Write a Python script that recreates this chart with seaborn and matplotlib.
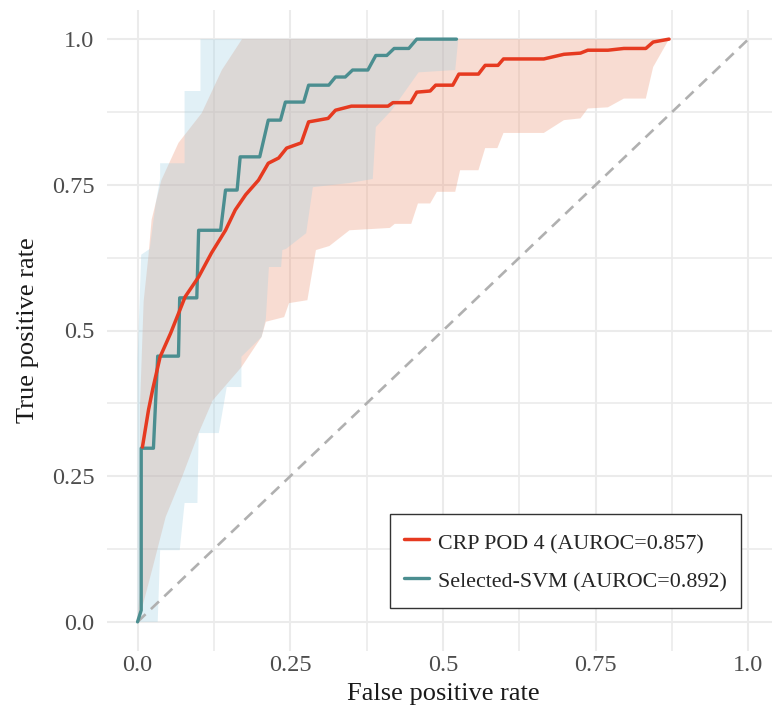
import seaborn as sns
import numpy as np
import matplotlib.pyplot as plt
from matplotlib.ticker import MultipleLocator

# ROC curves
crp_fpr = [0.008, 0.018, 0.025, 0.037, 0.054, 0.078, 0.1, 0.121, 0.144, 0.16, 0.177, 0.198, 0.214, 0.231,
           0.244, 0.268, 0.28, 0.312, 0.324, 0.35, 0.41, 0.418, 0.447, 0.457, 0.479, 0.488, 0.516, 0.526,
           0.558, 0.569, 0.59, 0.599, 0.665, 0.698, 0.725, 0.737, 0.77, 0.796, 0.832, 0.844, 0.87]
crp_tpr = [0.30, 0.364, 0.40, 0.455, 0.495, 0.558, 0.592, 0.633, 0.672, 0.707, 0.733, 0.758, 0.787, 0.796,
           0.813, 0.822, 0.858, 0.864, 0.878, 0.885, 0.885, 0.891, 0.891, 0.909, 0.911, 0.921, 0.921, 0.94,
           0.94, 0.955, 0.955, 0.966, 0.966, 0.974, 0.976, 0.981, 0.981, 0.984, 0.984, 0.995, 1.0]

svm_fpr = [0.0, 0.006, 0.006, 0.026, 0.033, 0.067, 0.069, 0.097, 0.1, 0.136, 0.144, 0.163, 0.168, 0.2,
           0.214, 0.234, 0.242, 0.272, 0.28, 0.313, 0.324, 0.34, 0.352, 0.377, 0.39, 0.408, 0.42, 0.444,
           0.457, 0.522]
svm_tpr = [0.0, 0.02, 0.298, 0.298, 0.456, 0.456, 0.556, 0.556, 0.672, 0.672, 0.741, 0.741, 0.798, 0.798,
           0.861, 0.861, 0.892, 0.892, 0.921, 0.921, 0.935, 0.935, 0.947, 0.947, 0.972, 0.972, 0.984, 0.984,
           1.0, 1.0]

# confidence bands
crp_up_x = [0.0, 0.003, 0.004, 0.01, 0.018, 0.023, 0.039, 0.067, 0.105, 0.138, 0.171, 0.87]
crp_up_y = [0.0, 0.05, 0.37, 0.55, 0.63, 0.69, 0.758, 0.822, 0.873, 0.947, 1.0, 1.0]
crp_lo_x = [0.0, 0.008, 0.025, 0.046, 0.073, 0.1, 0.123, 0.17, 0.203, 0.21, 0.24, 0.248, 0.278, 0.292,
            0.314, 0.347, 0.413, 0.421, 0.448, 0.459, 0.479, 0.49, 0.52, 0.528, 0.558, 0.569, 0.589,
            0.599, 0.665, 0.698, 0.725, 0.737, 0.77, 0.796, 0.832, 0.844, 0.87]
crp_lo_y = [0.0, 0.026, 0.094, 0.18, 0.249, 0.324, 0.38, 0.437, 0.489, 0.515, 0.523, 0.547, 0.552, 0.638,
            0.645, 0.672, 0.676, 0.683, 0.683, 0.718, 0.718, 0.738, 0.738, 0.775, 0.775, 0.813, 0.813,
            0.839, 0.839, 0.861, 0.864, 0.881, 0.883, 0.898, 0.898, 0.952, 1.0]

svm_up_x = [0.0, 0.0, 0.006, 0.02, 0.03, 0.037, 0.037, 0.077, 0.077, 0.103, 0.103, 0.525]
svm_up_y = [0.0, 0.45, 0.63, 0.64, 0.72, 0.76, 0.787, 0.787, 0.911, 0.911, 1.0, 1.0]
svm_lo_x = [0.0, 0.033, 0.037, 0.069, 0.077, 0.098, 0.1, 0.133, 0.146, 0.17, 0.17, 0.203, 0.21, 0.215,
            0.235, 0.237, 0.243, 0.276, 0.287, 0.346, 0.385, 0.39, 0.416, 0.46, 0.52, 0.525]
svm_lo_y = [0.0, 0.0, 0.123, 0.123, 0.204, 0.204, 0.324, 0.324, 0.403, 0.403, 0.455, 0.489, 0.52, 0.609,
            0.609, 0.638, 0.64, 0.667, 0.746, 0.753, 0.76, 0.849, 0.878, 0.943, 0.947, 1.0]

labels = ["CRP POD 4 (AUROC=0.857)", "Selected-SVM (AUROC=0.892)"]
ticks = [0.0, 0.25, 0.5, 0.75, 1.0]
tick_labels = ["0.0", "0.25", "0.5", "0.75", "1.0"]

red = "#E63A20"
teal = "#4B8E90"

sns.set_theme(style="whitegrid")
plt.rcParams['font.family'] = ['Liberation Serif', 'DejaVu Serif']

fig = plt.figure(figsize=(7.72, 7.10), dpi=100)
ax = fig.add_axes([107 / 772, 59 / 710, 672 / 772, 641 / 710])

# bands
ax.fill(crp_up_x + crp_lo_x[::-1], crp_up_y + crp_lo_y[::-1], color="#EB8E6C", alpha=0.3, lw=0, zorder=1)
ax.fill(svm_up_x + svm_lo_x[::-1], svm_up_y + svm_lo_y[::-1], color="#9CCFE2", alpha=0.3, lw=0, zorder=1.5)

ax.plot([0, 1], [0, 1], color="#B0B0B0", lw=1.9, dashes=(4.2, 2.8), zorder=2)

sns.lineplot(x=crp_fpr, y=crp_tpr, sort=False, estimator=None, color=red, lw=2.5,
             label=labels[0], ax=ax, zorder=4)
sns.lineplot(x=svm_fpr, y=svm_tpr, sort=False, estimator=None, color=teal, lw=2.4,
             label=labels[1], ax=ax, zorder=3)

ax.set_xlim(-0.05, 1.05)
ax.set_ylim(-0.05, 1.05)
ax.set_xticks(ticks)
ax.set_xticklabels(tick_labels)
ax.set_yticks(ticks)
ax.set_yticklabels(tick_labels)
ax.xaxis.set_minor_locator(MultipleLocator(0.125))
ax.yaxis.set_minor_locator(MultipleLocator(0.125))
ax.grid(which="major", color="#EBEBEB", lw=1.5)
ax.grid(which="minor", color="#EBEBEB", lw=1.2)
ax.set_axisbelow(True)
for s in ax.spines.values():
    s.set_visible(False)
ax.tick_params(which="both", length=0, labelsize=17.5, labelcolor="#4D4D4D")
ax.tick_params(axis="y", pad=9)
ax.tick_params(axis="x", pad=3)

ax.set_xlabel("False positive rate", fontsize=19, color="#1A1A1A", labelpad=5)
ax.set_ylabel("True positive rate", fontsize=19, color="#1A1A1A", labelpad=9)

leg = ax.legend(loc="lower left", bbox_to_anchor=(0.421, 0.067), borderaxespad=0, fontsize=15.8,
                frameon=True, fancybox=False, handlelength=1.15, handletextpad=0.4,
                handleheight=1.5, borderpad=0.64, labelspacing=0.55)
leg.get_frame().set_edgecolor("#333333")
leg.get_frame().set_linewidth(1.0)
leg.get_frame().set_alpha(1)

plt.savefig("out.png", dpi=100)
